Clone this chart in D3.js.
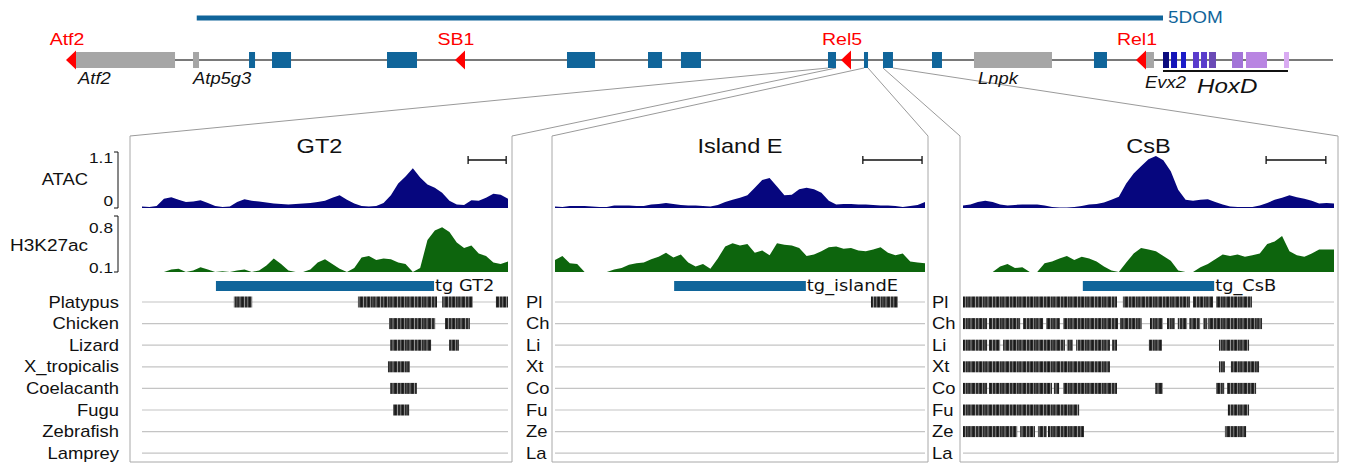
<!DOCTYPE html>
<html>
<head>
<meta charset="utf-8">
<script src="https://cdn.jsdelivr.net/npm/d3@7"></script>
<style>
  body { margin: 0; background: #fff; }
  text { font-family: "Liberation Sans", Arial, Helvetica, sans-serif; }
</style>
</head>
<body>
<div id="container"></div>
<script>
// ---- locus (kb) ----
const locusKb = [0, 2000];
const domainSpan = [200.7, 1730.8];
const grayGenes = [[7.9, 166.3], [194.8, 204.3], [1431.5, 1555.0], [1702.3, 1716.5]];
const blueElements = [[283.5, 293], [319.9, 350], [502, 549.5], [787, 831.4], [915.3, 937.5],
  [967.5, 999.2], [1200.3, 1213], [1257.3, 1263.7], [1287.4, 1303.2], [1365, 1380.8], [1621.5, 1642.1]];
const hoxGenes = [[1730.8, 1740.3], [1743.5, 1753.0], [1759.3, 1767.2], [1778.3, 1787.8], [1791.0, 1800.5],
  [1803.6, 1814.7], [1840.1, 1857.5], [1862.2, 1895.5], [1922.4, 1930.3]];
const hoxColors = ['#0b0b7e', '#1414b8', '#1c1cc8', '#5a3ccc', '#5a3ccc', '#6b4ab6', '#a374d8', '#b985e2', '#d9abf2'];
const breakpointNames = ['Atf2', 'SB1', 'Rel5', 'Rel1'];
const breakpointKb = [-6.3, 609.7, 1220.9, 1688.0];
const geneNames = ['Atf2', 'Atp5g3', 'Lnpk', 'Evx2'];
const geneLabelKb = [12.7, 194.8, 1437.8, 1702.3];
const hoxdSpan = [1730.8, 1928.7];
const hoxdLabelKb = 1784.6;
const zoomedElements = [6, 7, 8];

// ---- zoom panels (position in % of window) ----
const panelTitles = ['GT2', 'Island E', 'CsB'];
const titlePos = [48.5, 50, 50];
const tgLabels = ['tg GT2', 'tg_islandE', 'tg_CsB'];
const tgSpans = [[20.2, 79.8], [32.2, 67.8], [32.3, 67.7]];
const scaleBars = [[89.1, 99.5], [83.2, 99.2], [81.7, 97.8]];
const samplePos = d3.range(0, 101, 2);

const gt2Atac = [0.03,0.02,0.04,0.18,0.21,0.16,0.12,0.13,0.15,0.10,0.04,0.02,0.03,0.12,0.17,0.14,0.13,0.11,0.09,0.08,0.07,0.08,0.09,0.10,0.12,0.14,0.20,0.25,0.16,0.09,0.04,0.03,0.04,0.10,0.25,0.48,0.62,0.78,0.60,0.46,0.40,0.30,0.14,0.07,0.06,0.15,0.14,0.20,0.28,0.26,0.18];
const gt2H3k = [0.05,0.05,0.05,0.05,0.13,0.14,0.06,0.12,0.16,0.13,0.08,0.11,0.08,0.12,0.13,0.06,0.12,0.18,0.27,0.20,0.12,0.05,0.05,0.13,0.22,0.26,0.20,0.14,0.05,0.15,0.28,0.30,0.25,0.27,0.26,0.22,0.20,0.05,0.15,0.50,0.62,0.66,0.60,0.47,0.40,0.43,0.33,0.30,0.22,0.20,0.23];
const islandAtac = [0.03,0.02,0.04,0.04,0.04,0.03,0.02,0.02,0.05,0.05,0.05,0.04,0.04,0.07,0.08,0.10,0.08,0.06,0.05,0.05,0.04,0.03,0.06,0.12,0.16,0.20,0.25,0.40,0.55,0.59,0.42,0.25,0.26,0.37,0.40,0.37,0.30,0.14,0.07,0.08,0.08,0.07,0.07,0.06,0.05,0.05,0.04,0.02,0.04,0.06,0.12];
const islandH3k = [0.25,0.30,0.21,0.20,0.05,0.05,0.05,0.05,0.13,0.15,0.19,0.21,0.22,0.26,0.29,0.34,0.28,0.32,0.22,0.17,0.20,0.14,0.27,0.42,0.46,0.43,0.45,0.34,0.37,0.31,0.46,0.44,0.43,0.40,0.30,0.32,0.36,0.41,0.42,0.39,0.40,0.37,0.36,0.38,0.41,0.34,0.31,0.33,0.23,0.22,0.21];
const csbAtac = [0.05,0.07,0.12,0.14,0.12,0.07,0.05,0.06,0.07,0.07,0.07,0.05,0.02,0.01,0.01,0.02,0.04,0.07,0.08,0.11,0.16,0.22,0.48,0.68,0.82,0.96,1.02,0.94,0.72,0.36,0.16,0.14,0.16,0.17,0.12,0.07,0.03,0.02,0.02,0.02,0.05,0.10,0.16,0.20,0.25,0.21,0.18,0.14,0.09,0.10,0.09];
const csbH3k = [0.05,0.05,0.05,0.05,0.05,0.17,0.20,0.15,0.16,0.05,0.05,0.21,0.23,0.27,0.30,0.25,0.29,0.27,0.23,0.17,0.12,0.05,0.22,0.33,0.40,0.38,0.36,0.30,0.24,0.12,0.05,0.05,0.16,0.20,0.26,0.32,0.30,0.32,0.29,0.31,0.33,0.45,0.48,0.55,0.36,0.31,0.29,0.33,0.38,0.38,0.38];

const species = ['Platypus', 'Chicken', 'Lizard', 'X_tropicalis', 'Coelacanth', 'Fugu', 'Zebrafish', 'Lamprey'];
const speciesShort = ['Pl', 'Ch', 'Li', 'Xt', 'Co', 'Fu', 'Ze', 'La'];

const gt2Blocks = [
  [[25.1, 30.1], [59.0, 80.6], [82.0, 90.4], [96.7, 100]],
  [[67.5, 80.1], [82.8, 89.6]],
  [[67.8, 79.0], [83.9, 86.6]],
  [[67.2, 73.2]],
  [[67.8, 75.1]],
  [[68.6, 73.0]],
  [], []
];
const islandBlocks = [[[85.4, 92.7]], [], [], [], [], [], [], []];
const csbBlocks = [
  [[0, 41.5], [43.1, 61.2], [62.0, 67.4], [68.2, 77.9]],
  [[0, 6.5], [7.0, 15.4], [16.2, 21.6], [22.4, 26.1], [27.0, 41.8], [42.3, 48.2], [50.4, 53.9], [55.0, 57.1], [57.9, 60.4], [61.0, 63.9], [64.7, 65.8], [66.0, 80.6]],
  [[0, 6.5], [7.0, 10.0], [10.8, 27.5], [28.0, 29.6], [30.5, 39.6], [40.2, 41.5], [50.1, 53.6], [69.0, 77.1]],
  [[0, 39.6], [69.0, 70.6], [72.2, 79.8]],
  [[0, 6.5], [7.0, 24.0], [24.5, 25.9], [27.0, 41.5], [51.8, 53.9], [68.2, 70.4], [71.2, 79.0]],
  [[0, 31.3], [71.4, 77.1]],
  [[0, 14.6], [15.4, 19.4], [20.2, 22.6], [22.9, 32.6], [70.6, 76.3]],
  []
];

const atacSeries = [gt2Atac, islandAtac, csbAtac];
const h3kSeries = [gt2H3k, islandH3k, csbH3k];
const blockSeries = [gt2Blocks, islandBlocks, csbBlocks];

// ---- layout ----
const W = 1347, H = 465;
const blue = '#10659a';
const geneY = 60;
const panelTracks = [[142, 508], [555, 925], [963, 1334]];
const panelFrames = [[130, 512], [552, 928], [960, 1338]];
const panelTop = 136, panelBottom = 462;
const rowY0 = 302, rowStep = 21.6;
const stretch = 1.15; // text in the figure is a bit wider than the font

const svg = d3.select('#container').append('svg').attr('width', W).attr('height', H);

function label(parent, x, y, str, size, anchor) {
  return parent.append('text')
    .attr('transform', `translate(${x},${y}) scale(${stretch},1)`)
    .attr('font-size', size)
    .attr('text-anchor', anchor || 'start')
    .attr('fill', '#111')
    .text(str);
}

const defs = svg.append('defs');
const pat = defs.append('pattern').attr('id', 'barcode')
  .attr('patternUnits', 'userSpaceOnUse').attr('width', 17).attr('height', 20);
pat.append('rect').attr('width', 17).attr('height', 20).attr('fill', '#2b2b2b');
[[1.5, 1, '#8a8a8a'], [4, 0.6, '#111'], [6, 0.8, '#b0b0b0'], [9, 1.2, '#6a6a6a'],
 [11.5, 0.6, '#050505'], [13, 0.8, '#9c9c9c'], [15.6, 0.6, '#777']].forEach(s => {
  pat.append('rect').attr('x', s[0]).attr('width', s[1]).attr('height', 20).attr('fill', s[2]);
});

// ---- gene track ----
const x = d3.scaleLinear().domain(locusKb).range([70, 1333]);

svg.append('rect')
  .attr('x', x(domainSpan[0])).attr('y', 15.5)
  .attr('width', x(domainSpan[1]) - x(domainSpan[0])).attr('height', 5)
  .attr('fill', blue);
label(svg, x(domainSpan[1]) + 5, 23, '5DOM', 16.5).attr('fill', blue);

// connector lines to the zoom panels
const connectors = svg.append('g').attr('stroke', '#9a9a9a').attr('stroke-width', 1);
zoomedElements.forEach((ei, i) => {
  const el = blueElements[ei];
  connectors.append('line').attr('x1', x(el[0])).attr('y1', geneY + 8)
    .attr('x2', panelFrames[i][0]).attr('y2', panelTop);
  connectors.append('line').attr('x1', x(el[1])).attr('y1', geneY + 8)
    .attr('x2', panelFrames[i][1]).attr('y2', panelTop);
});

svg.append('line').attr('x1', x(locusKb[0])).attr('x2', x(locusKb[1]))
  .attr('y1', geneY).attr('y2', geneY).attr('stroke', '#4d4d4d').attr('stroke-width', 1.5);

svg.selectAll('.gray-gene').data(grayGenes).enter().append('rect')
  .attr('class', 'gray-gene')
  .attr('x', d => x(d[0])).attr('width', d => x(d[1]) - x(d[0]))
  .attr('y', geneY - 8).attr('height', 16).attr('fill', '#a6a6a6');

svg.selectAll('.element').data(blueElements).enter().append('rect')
  .attr('class', 'element')
  .attr('x', d => x(d[0])).attr('width', d => x(d[1]) - x(d[0]))
  .attr('y', geneY - 8).attr('height', 16).attr('fill', blue);

svg.selectAll('.hox').data(hoxGenes).enter().append('rect')
  .attr('class', 'hox')
  .attr('x', d => x(d[0])).attr('width', d => x(d[1]) - x(d[0]))
  .attr('y', geneY - 8).attr('height', 16).attr('fill', (d, i) => hoxColors[i]);

svg.selectAll('.bp').data(breakpointKb).enter().append('path')
  .attr('class', 'bp')
  .attr('d', d => `M${x(d)},${geneY} L${x(d) + 10},${geneY - 9.5} L${x(d) + 10},${geneY + 9.5} Z`)
  .attr('fill', '#ff0000');
breakpointKb.forEach((d, i) => {
  label(svg, x(d) + 1, 45, breakpointNames[i], 17, 'middle').attr('fill', '#ff0000');
});

geneLabelKb.forEach((d, i) => {
  label(svg, x(d), i === 3 ? 88 : 84, geneNames[i], 16).attr('font-style', 'italic');
});

svg.append('line').attr('x1', x(hoxdSpan[0])).attr('x2', x(hoxdSpan[1]))
  .attr('y1', 71).attr('y2', 71).attr('stroke', '#111').attr('stroke-width', 2);
label(svg, x(hoxdLabelKb), 93, 'HoxD', 21).attr('font-style', 'italic');

// ---- panels ----
const yAtac = d3.scaleLinear().domain([0, 1.1]).range([208, 152]).clamp(true);
const yH3k = d3.scaleLinear().domain([0.1, 0.8]).range([272, 216]).clamp(true);

panelTracks.forEach((rng, pi) => {
  const px = d3.scaleLinear().domain([0, 100]).range(rng);
  const g = svg.append('g');
  const fr = panelFrames[pi];

  g.append('path')
    .attr('d', `M${fr[0]},${panelTop} V${panelBottom} H${fr[1]} V${panelTop}`)
    .attr('fill', 'none').attr('stroke', '#a8a8a8').attr('stroke-width', 1);

  label(g, px(titlePos[pi]), 153, panelTitles[pi], 20.5, 'middle');

  const sb = scaleBars[pi];
  g.append('path')
    .attr('d', `M${px(sb[0])},156 V164 M${px(sb[0])},160 H${px(sb[1])} M${px(sb[1])},156 V164`)
    .attr('stroke', '#111').attr('stroke-width', 1.3).attr('fill', 'none');

  const atacArea = d3.area()
    .x((d, i) => px(samplePos[i])).y0(yAtac(0)).y1(d => yAtac(d));
  g.append('path').datum(atacSeries[pi]).attr('d', atacArea).attr('fill', '#06067e');

  const h3kArea = d3.area()
    .x((d, i) => px(samplePos[i])).y0(yH3k(0.1)).y1(d => yH3k(d));
  g.append('path').datum(h3kSeries[pi]).attr('d', h3kArea).attr('fill', '#0d650d');

  const tg = tgSpans[pi];
  g.append('rect').attr('x', px(tg[0])).attr('width', px(tg[1]) - px(tg[0]))
    .attr('y', 281).attr('height', 10).attr('fill', blue);
  label(g, px(tg[1]) + 1, 291, tgLabels[pi], 15.5)
    .style('font-family', '"DejaVu Sans", sans-serif');

  species.forEach((sp, si) => {
    const y = rowY0 + si * rowStep;
    g.append('line').attr('x1', rng[0]).attr('x2', rng[1])
      .attr('y1', y).attr('y2', y).attr('stroke', '#c4c4c4').attr('stroke-width', 1.2);
    g.selectAll(null).data(blockSeries[pi][si]).enter().append('rect')
      .attr('x', d => px(d[0])).attr('width', d => px(d[1]) - px(d[0]))
      .attr('y', y - 5.5).attr('height', 11).attr('fill', 'url(#barcode)');
  });
});

// ---- left axis labels ----
label(svg, 88, 185, 'ATAC', 16, 'end');
label(svg, 88, 251, 'H3K27ac', 16.5, 'end');
label(svg, 113, 163, yAtac.domain()[1], 15, 'end');
label(svg, 113, 206, yAtac.domain()[0], 15, 'end');
label(svg, 113, 233, yH3k.domain()[1], 15, 'end');
label(svg, 113, 273, yH3k.domain()[0], 15, 'end');
[[yAtac, 0, 1.1], [yH3k, 0.1, 0.8]].forEach(a => {
  const y0 = a[0](a[1]), y1 = a[0](a[2]);
  svg.append('path')
    .attr('d', `M114,${y1} H118 V${y0} H114`)
    .attr('fill', 'none').attr('stroke', '#111').attr('stroke-width', 1);
});

species.forEach((sp, si) => {
  const y = rowY0 + si * rowStep + 5.5;
  label(svg, 119, y, sp, 16, 'end');
  [526, 932].forEach(cx => label(svg, cx, y, speciesShort[si], 16));
});
</script>
</body>
</html>
